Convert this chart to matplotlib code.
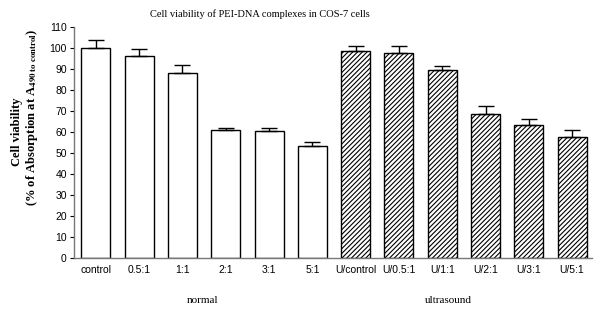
import numpy as np
import matplotlib
matplotlib.use("Agg")
import matplotlib.pyplot as plt

plt.rcParams['hatch.linewidth'] = 0.8

# ── data ─────────────────────────────────────────────────────────────────────
normal_labels = ["control", "0.5:1", "1:1", "2:1", "3:1", "5:1"]
normal_vals   = [100.0, 96.2, 88.2, 60.8, 60.6, 53.2]
normal_err    = [3.7, 3.2, 3.7, 0.9, 1.4, 1.8]

us_labels = ["U/control", "U/0.5:1", "U/1:1", "U/2:1", "U/3:1", "U/5:1"]
us_vals   = [98.7, 97.4, 89.5, 68.4, 63.2, 57.8]
us_err    = [2.1, 3.4, 1.8, 3.8, 3.0, 3.0]

labels = normal_labels + us_labels
vals = normal_vals + us_vals
errs = normal_err + us_err

fig = plt.figure(figsize=(6, 3.2), dpi=100)
ax = fig.add_axes([0.123, 0.194, 0.863, 0.722])

x = np.arange(len(labels))
n = len(normal_vals)
bw = 0.67

ax.bar(x[:n], normal_vals, width=bw, color="white", edgecolor="black", linewidth=1.0,
       yerr=[np.zeros(n), normal_err], capsize=5.5,
       error_kw=dict(elinewidth=1.0, capthick=1.0, ecolor="black"))
ax.bar(x[n:], us_vals, width=bw, color="white", edgecolor="black", linewidth=1.0,
       hatch="///////", yerr=[np.zeros(len(us_vals)), us_err], capsize=5.5,
       error_kw=dict(elinewidth=1.0, capthick=1.0, ecolor="black"))

ax.set_xlim(-0.51, 11.45)
ax.set_ylim(0, 110)
ax.set_yticks(np.arange(0, 111, 10))
ax.set_xticks(x)
ax.set_xticklabels(labels, fontfamily="Liberation Sans", fontsize=7.5)
for t in ax.get_yticklabels():
    t.set_fontfamily("Liberation Sans")
    t.set_fontsize(7.5)
ax.tick_params(axis="x", length=0, pad=5)
ax.tick_params(axis="y", length=3, width=0.8, pad=2)

for s in ["top", "right"]:
    ax.spines[s].set_visible(False)
for s in ["left", "bottom"]:
    ax.spines[s].set_color("#777777")
    ax.spines[s].set_linewidth(1.0)

# group labels under the ticks
trans = ax.get_xaxis_transform()
ax.text(2.47, -0.185, "normal", transform=trans, ha="center", va="center",
        fontfamily="Liberation Serif", fontsize=8)
ax.text(8.15, -0.185, "ultrasound", transform=trans, ha="center", va="center",
        fontfamily="Liberation Serif", fontsize=8)

fig.text(0.433, 0.955, "Cell viability of PEI-DNA complexes in COS-7 cells",
         ha="center", va="center", fontfamily="Liberation Serif", fontsize=7.5)

fig.text(0.028, 1 - 132 / 320, "Cell viability", rotation=90, ha="center", va="center",
         fontfamily="Liberation Serif", fontweight="bold", fontsize=9)
fig.text(0.053, 1 - 117 / 320,
         r"(% of Absorption at A$_{\mathbf{490\ to\ control}}$)",
         rotation=90, ha="center", va="center",
         fontfamily="Liberation Serif", fontweight="bold", fontsize=9,
         math_fontfamily="stix")

fig.savefig("out.png", dpi=100)
